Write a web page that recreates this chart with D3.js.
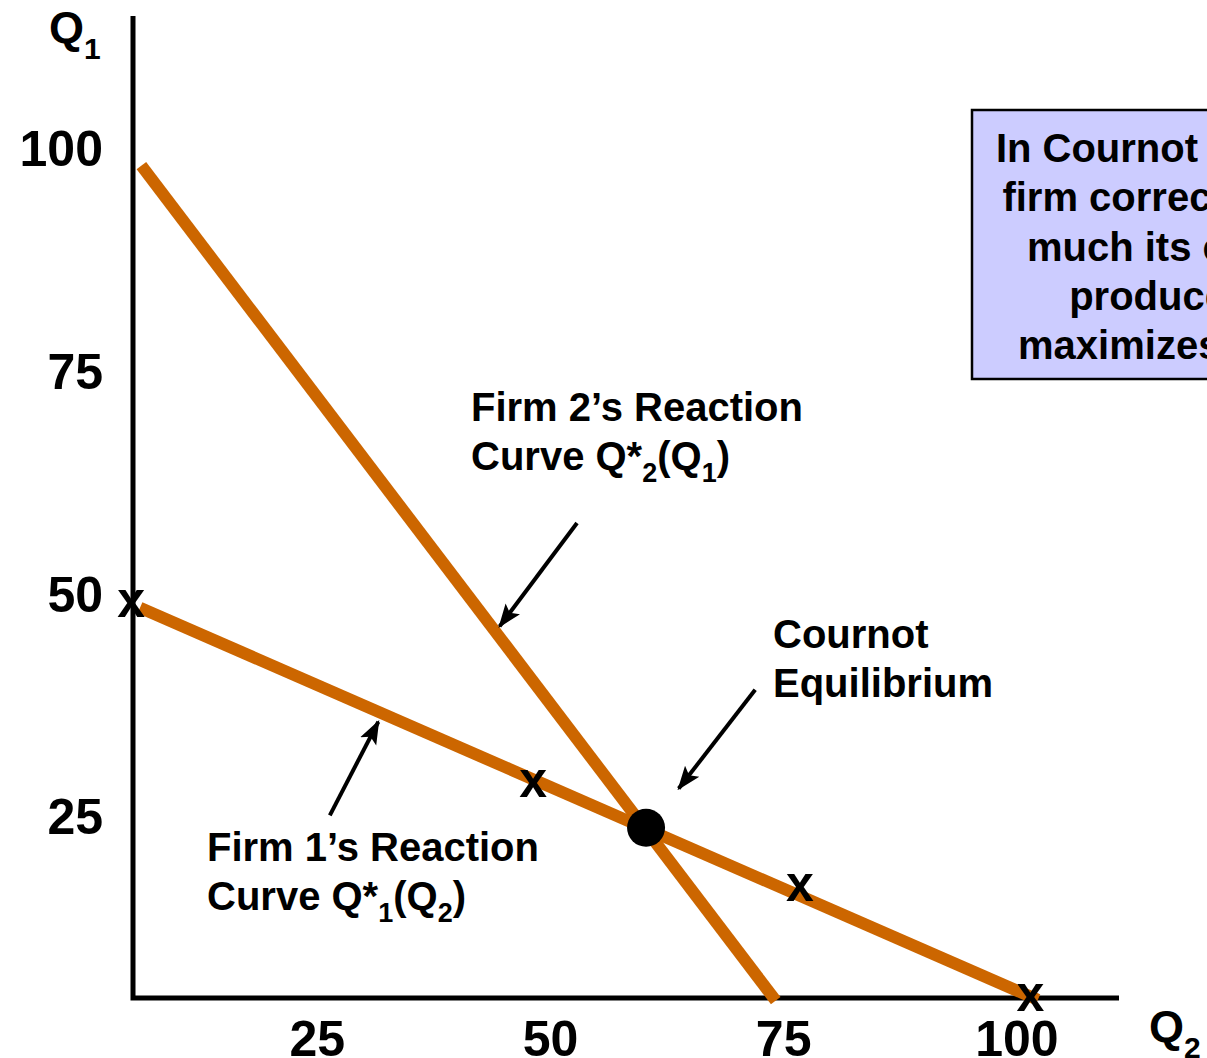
<!DOCTYPE html>
<html><head><meta charset="utf-8">
<script src="https://cdn.jsdelivr.net/npm/d3@7"></script>
<style>
html,body{margin:0;padding:0;background:#fff;overflow:hidden}
text{font-family:"Liberation Sans",Arial,sans-serif;font-weight:bold;fill:#000}
</style></head>
<body>
<svg id="chart" width="1207" height="1058"></svg>
<script>
// ---- data (in chart units) ----
const q2Extent = [5.3, 111];          // horizontal axis extent (Q2)
const q1Extent = [4.8, 115];          // vertical axis extent (Q1)
const tickValues = [25, 50, 75, 100];
const tickLabels = ["25", "50", "75", "100"];

const firm1Q2 = [6.05, 102.3];        // Firm 1's reaction curve Q*1(Q2)
const firm1Q1 = [48.6, 4.6];
const firm2Q2 = [6.2, 74.2];          // Firm 2's reaction curve Q*2(Q1)
const firm2Q1 = [98.2, 4.5];

const equilibriumQ2 = [60.3];
const equilibriumQ1 = [23.9];

const markQ2 = [5.1, 48.2, 76.8, 101.5];   // "x" markers
const markQ1 = [49.0, 28.8, 17.1, 4.8];

const arrowTailQ2 = [52.9, 72.0, 26.4];
const arrowTailQ1 = [58.1, 39.4, 25.3];
const arrowHeadQ2 = [44.6, 63.8, 31.6];
const arrowHeadQ1 = [46.5, 28.3, 35.8];

const boxLines = ["In Cournot equilibrium, each", "firm correctly assumes how",
  "much its competitors will", "produce and thereby", "maximizes its own profits."];

// ---- drawing ----
const svg = d3.select("#chart");
const x = d3.scaleLinear().domain(q2Extent).range([133, 1119]);
const y = d3.scaleLinear().domain(q1Extent).range([998, 16]);
const orange = "#cc6600";

// text box
svg.append("rect").attr("x", 972).attr("y", 110).attr("width", 590).attr("height", 269)
  .attr("fill", "#ccccff").attr("stroke", "#000").attr("stroke-width", 2.5);
svg.append("g").selectAll("text").data(boxLines).join("text")
  .attr("x", 1267).attr("y", (d, i) => 162 + i * 49.3)
  .attr("text-anchor", "middle").attr("font-size", 40).text(d => d);

// axes
const xAxis = svg.append("g").attr("transform", `translate(0,${y.range()[0]})`)
  .call(d3.axisBottom(x).tickValues(tickValues).tickFormat((d, i) => tickLabels[i]).tickSize(0).tickPadding(22));
const yAxis = svg.append("g").attr("transform", `translate(${x.range()[0]},0)`)
  .call(d3.axisLeft(y).tickValues(tickValues).tickFormat((d, i) => tickLabels[i]).tickSize(0).tickPadding(30));
[xAxis, yAxis].forEach(g => {
  g.select(".domain").remove();
  g.selectAll("text").attr("font-size", 50).attr("font-family", null).style("fill", "#000");
});
svg.append("path")
  .attr("d", `M${x.range()[0]},${y.range()[1]}V${y.range()[0]}H${x.range()[1]}`)
  .attr("fill", "none").attr("stroke", "#000").attr("stroke-width", 5).attr("stroke-linejoin", "miter");

// axis titles
const t1 = svg.append("text").attr("x", 49).attr("y", 43).attr("font-size", 45);
t1.append("tspan").text("Q");
t1.append("tspan").attr("font-size", 30).attr("dy", 16).text("1");
const t2 = svg.append("text").attr("x", 1149).attr("y", 1042).attr("font-size", 45);
t2.append("tspan").text("Q");
t2.append("tspan").attr("font-size", 30).attr("dy", 16).text("2");

// reaction curves
const line = d3.line().x(d => x(d[0])).y(d => y(d[1]));
svg.append("path").datum(d3.zip(firm2Q2, firm2Q1)).attr("d", line)
  .attr("stroke", orange).attr("stroke-width", 12).attr("fill", "none");
svg.append("path").datum(d3.zip(firm1Q2, firm1Q1)).attr("d", line)
  .attr("stroke", orange).attr("stroke-width", 12).attr("fill", "none");

// x markers
svg.append("g").selectAll("text").data(d3.zip(markQ2, markQ1)).join("text")
  .attr("x", d => x(d[0])).attr("y", d => y(d[1]) + 13)
  .attr("text-anchor", "middle").attr("font-size", 50).text("x");

// equilibrium point
svg.append("g").selectAll("circle").data(d3.zip(equilibriumQ2, equilibriumQ1)).join("circle")
  .attr("cx", d => x(d[0])).attr("cy", d => y(d[1])).attr("r", 19).attr("fill", "#000");

// arrows
svg.append("defs").append("marker").attr("id", "ah")
  .attr("viewBox", "0 0 24 20").attr("refX", 22).attr("refY", 10)
  .attr("markerWidth", 24).attr("markerHeight", 20).attr("markerUnits", "userSpaceOnUse")
  .attr("orient", "auto")
  .append("path").attr("d", "M0,1L24,10L0,19L5,10Z").attr("fill", "#000");
svg.append("g").selectAll("line").data(d3.range(arrowTailQ2.length)).join("line")
  .attr("x1", i => x(arrowTailQ2[i])).attr("y1", i => y(arrowTailQ1[i]))
  .attr("x2", i => x(arrowHeadQ2[i])).attr("y2", i => y(arrowHeadQ1[i]))
  .attr("stroke", "#000").attr("stroke-width", 4).attr("marker-end", "url(#ah)");

// annotations
function label(xp, yp, first, base, sub1, mid, sub2) {
  svg.append("text").attr("x", xp).attr("y", yp).attr("font-size", 40).text(first);
  const t = svg.append("text").attr("x", xp).attr("y", yp + 49).attr("font-size", 40);
  t.append("tspan").text(base);
  t.append("tspan").attr("font-size", 27).attr("dy", 12).text(sub1);
  t.append("tspan").attr("dy", -12).text(mid);
  t.append("tspan").attr("font-size", 27).attr("dy", 12).text(sub2);
  t.append("tspan").attr("dy", -12).text(")");
}
label(471, 421, "Firm 2\u2019s Reaction", "Curve Q*", "2", "(Q", "1");
label(207, 861, "Firm 1\u2019s Reaction", "Curve Q*", "1", "(Q", "2");
svg.append("text").attr("x", 773).attr("y", 648).attr("font-size", 40).text("Cournot");
svg.append("text").attr("x", 773).attr("y", 697).attr("font-size", 40).text("Equilibrium");
</script>
</body></html>
